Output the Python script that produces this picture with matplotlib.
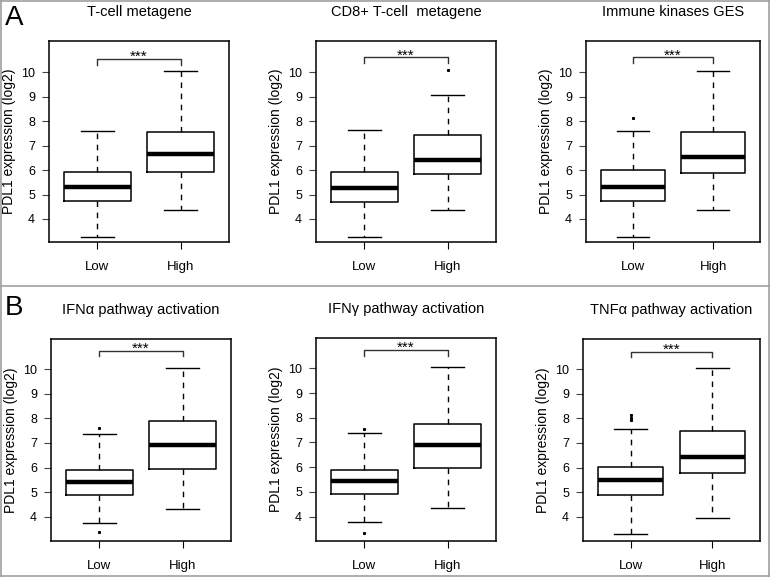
import numpy as np
import matplotlib
matplotlib.use('Agg')
import matplotlib.pyplot as plt
from matplotlib.lines import Line2D

plt.rcParams['font.family'] = ['Liberation Sans', 'DejaVu Sans']

W, H = 770, 577

titles = ['T-cell metagene', 'CD8+ T-cell  metagene', 'Immune kinases GES',
          'IFNα pathway activation', 'IFNγ pathway activation', 'TNFα pathway activation']
groups = ['Low', 'High']

# box stats per panel: [Low, High]
q1 = [[4.73, 5.90], [4.71, 5.84], [4.73, 5.86], [4.88, 5.94], [4.92, 5.98], [4.87, 5.79]]
med = [[5.31, 6.65], [5.28, 6.41], [5.31, 6.54], [5.43, 6.93], [5.45, 6.89], [5.49, 6.43]]
q3 = [[5.93, 7.55], [5.93, 7.44], [5.99, 7.56], [5.90, 7.88], [5.90, 7.76], [6.02, 7.50]]
whislo = [[3.28, 4.37], [3.28, 4.37], [3.28, 4.37], [3.76, 4.33], [3.76, 4.33], [3.29, 3.96]]
whishi = [[7.61, 10.05], [7.62, 9.05], [7.61, 10.05], [7.37, 10.04], [7.37, 10.04], [7.57, 10.04]]
fliers = [[[], []], [[], [10.08]], [[8.11], []], [[3.36, 7.61], []],
          [[3.35, 7.56], []], [[7.93, 8.03, 8.13], []]]
bracket = [10.54, 10.6, 10.6, 10.75, 10.75, 10.72]
yticks = [4, 5, 6, 7, 8, 9, 10]

# axes boxes in pixels: left, top, right, bottom
rects = [(49, 41, 229, 242), (316, 41, 496, 242), (586, 41, 760, 242),
         (51, 339, 231, 541), (316, 338, 496, 541), (583, 339, 760, 541)]
ylims = [(3.06, 11.27)] * 3 + [(3.01, 11.23)] * 3

fig = plt.figure(figsize=(W / 100, H / 100), dpi=100)

for i in range(6):
    l, t, r, b = rects[i]
    ax = fig.add_axes([l / W, 1 - b / H, (r - l) / W, (b - t) / H])
    stats = []
    for j in range(2):
        stats.append(dict(q1=q1[i][j], med=med[i][j], q3=q3[i][j],
                          whislo=whislo[i][j], whishi=whishi[i][j],
                          fliers=np.array(fliers[i][j])))
    ax.bxp(stats, positions=[1, 2], widths=0.8, capwidths=0.4,
           boxprops=dict(color='black', lw=1.1),
           whiskerprops=dict(color='black', lw=1.0, linestyle=(0, (4, 4))),
           capprops=dict(color='black', lw=1.0),
           medianprops=dict(color='black', lw=3.2, solid_capstyle='butt'),
           flierprops=dict(marker='s', markersize=1.2, markerfacecolor='black',
                           markeredgecolor='black', linestyle='none'))
    # significance bracket
    yb = bracket[i]
    ax.plot([1, 1, 2, 2], [yb - 0.23, yb, yb, yb - 0.23], color='#333333', lw=1.0)
    ax.text(1.5, yb - 0.2, '***', ha='center', va='bottom', fontsize=11)

    ax.set_xlim(0.42, 2.58)
    ax.set_ylim(*ylims[i])
    ax.set_xticks([1, 2])
    ax.set_xticklabels(groups, fontsize=9.5)
    ax.set_yticks(yticks)
    ax.set_yticklabels([str(v) for v in yticks], fontsize=9)
    ax.tick_params(axis='x', length=5, width=0.8, pad=9)
    ax.tick_params(axis='y', length=5, width=0.8, pad=5, color='#444444')
    for s in ax.spines.values():
        s.set_linewidth(1.1)
    ax.set_ylabel('PDL1 expression (log2)', fontsize=10)
    ax.yaxis.set_label_coords(-33 / (r - l), 0.5)

    fig.text((l + r) / 2 / W, 1 - (t - 29) / H, titles[i], ha='center',
             va='center', fontsize=10.5)

fig.text(5 / W, 1 - 18 / H, 'A', fontsize=20, va='center', ha='left')
fig.text(5 / W, 1 - 308 / H, 'B', fontsize=20, va='center', ha='left')

# panel borders
bc = '#a0a0a0'
for xs, ys in [([0.5, 769.5], [0.8, 0.8]), ([0.5, 769.5], [576.2, 576.2]),
               ([0.8, 0.8], [0, 577]), ([769.2, 769.2], [0, 577]),
               ([0.5, 769.5], [286, 286])]:
    fig.add_artist(Line2D([x / W for x in xs], [1 - y / H for y in ys],
                          transform=fig.transFigure, color=bc, lw=1.2))

fig.savefig('out.png', dpi=100)
